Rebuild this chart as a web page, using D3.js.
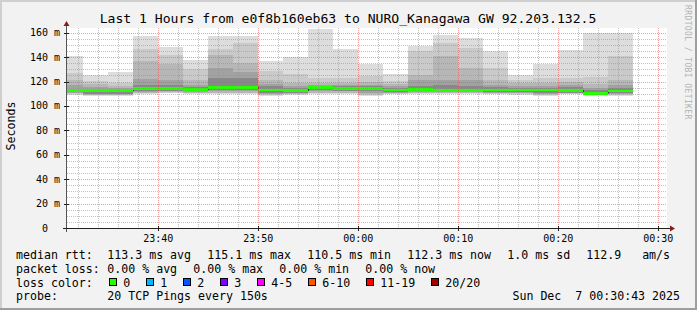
<!DOCTYPE html>
<html>
<head>
<meta charset="utf-8">
<script src="https://cdn.jsdelivr.net/npm/d3@7"></script>
<style>
  html, body { margin: 0; padding: 0; background: #f2f2f2; }
  svg { display: block; font-family: "DejaVu Sans Mono", monospace; }
  svg text { white-space: pre; }
</style>
</head>
<body>
<svg width="697" height="310"></svg>
<script>
// end time of each 150s step (Dec 6 23:xx -> Dec 7 00:xx)
const stepEnds = ["23:32:30", "23:35:00", "23:37:30", "23:40:00", "23:42:30", "23:45:00",
  "23:47:30", "23:50:00", "23:52:30", "23:55:00", "23:57:30", "00:00:00", "00:02:30",
  "00:05:00", "00:07:30", "00:10:00", "00:12:30", "00:15:00", "00:17:30", "00:20:00",
  "00:22:30", "00:25:00", "00:27:30"];

// median rtt (ms)
const median = [112.5, 112.5, 112.5, 114.2, 114.2, 113.4, 115.1, 115.0, 113.1, 112.5, 114.8, 114.2,
  114.2, 113.1, 113.7, 113.1, 113.1, 113.1, 113.1, 113.1, 112.8, 110.5, 112.3];

// smoke band edges, outermost (hi1/lo1 = max/min) to innermost
const hi1 = [141, 125, 128, 157, 148.5, 137.7, 157.5, 157.5, 136.5, 140, 163, 146.7,
  134.5, 126, 149, 158.3, 155.7, 144.8, 125.3, 134, 146, 159.5, 159.5];
const hi2 = [127, 120.7, 119, 147, 142, 130.6, 147, 152, 129, 126, 123, 122.7,
  124.2, 120.5, 144.8, 151.6, 147.5, 131.5, 121.6, 123, 123, 124, 140.8];
const hi3 = [121.3, 118, 116.5, 137, 134, 121, 141.5, 135, 121, 119, 119, 119,
  120, 118, 125.7, 141, 130.9, 121, 118.5, 119, 119.5, 118, 121];
const hi4 = [117, 115.5, 114.5, 122, 121.5, 117.5, 131, 128, 118, 116.5, 117, 117,
  117.5, 116, 121, 121.3, 121.6, 117.5, 116.5, 116.1, 117, 115, 117];
const hi5 = [114, 113.5, 113.5, 117, 117, 115.5, 123, 122.7, 116, 115, 116, 116,
  116, 115, 116.5, 117, 116.5, 115.5, 115, 115, 115.5, 113.5, 115];
const lo1 = [109, 108.5, 108.5, 110, 110.5, 110, 109.5, 109.5, 108.5, 109, 110, 110,
  108.5, 109.5, 110, 110, 110, 109.5, 109.3, 108.5, 109.5, 108.5, 108.5];
const lo2 = [110, 109, 109, 110.5, 111, 110.5, 110.5, 110.5, 109, 109.5, 110.5, 110.5,
  109, 110, 110.5, 110.5, 110.5, 110, 109.8, 109, 110, 109, 109];
const lo3 = [110.5, 109.3, 109.3, 111, 111.5, 111, 111, 111, 109.5, 110, 111, 111,
  110, 110.5, 111, 111, 111, 110.5, 110.3, 109.5, 110.3, 109.3, 109.5];
const lo4 = [111, 109.6, 109.6, 111.5, 112, 111.5, 112, 112, 110, 110.5, 112, 112,
  111, 111, 111.5, 111.5, 111.5, 111, 110.8, 110, 110.6, 109.6, 110];
const lo5 = [111.5, 110, 110, 112, 112.5, 112, 113, 113, 110.5, 111, 113, 112.5,
  112, 111.5, 112, 112, 112, 111.5, 111.3, 111, 111, 110, 111];

const smokeColors = ["#dddddd", "#cacaca", "#b7b7b7", "#a2a2a2", "#888888"];

const lossLabels = ["0", "1", "2", "3", "4-5", "6-10", "11-19", "20/20"];
const lossColors = ["#26ff00", "#00b8ff", "#0059ff", "#7e00ff", "#ff00ff", "#ff5500", "#ff0000", "#a10000"];

const title = "Last 1 Hours from e0f8b160eb63 to NURO_Kanagawa GW 92.203.132.5";
const rttItems = ["113.3 ms avg", "115.1 ms max", "110.5 ms min", "112.3 ms now", "1.0 ms sd", "112.9   am/s"];
const lossItems = ["0.00 % avg", "0.00 % max", "0.00 % min", "0.00 % now"];
const probeText = "20 TCP Pings every 150s";
const stamp = "Sun Dec  7 00:30:43 2025";

const W = 697, H = 310;
const plotL = 67, plotR = 667, plotT = 28, plotB = 228;

const tEnd = new Date(Date.UTC(2025, 11, 7, 0, 30, 52));
const tStart = new Date(+tEnd - 3600e3);
const parseEnd = s => {
  const [h, m, sec] = s.split(":").map(Number);
  return new Date(Date.UTC(2025, 11, h >= 12 ? 6 : 7, h, m, sec));
};
const ends = stepEnds.map(parseEnd);

const x = d3.scaleUtc().domain([tStart, tEnd]).range([plotL, plotR]);
const y = d3.scaleLinear().domain([0, 163.9]).range([plotB, plotT]);

const svg = d3.select("svg");

// frame
svg.append("rect").attr("width", W).attr("height", H).attr("fill", "#f2f2f2");
svg.append("rect").attr("x", 0).attr("y", 0).attr("width", W).attr("height", 2).attr("fill", "#cfcfcf");
svg.append("rect").attr("x", 0).attr("y", 0).attr("width", 2).attr("height", H).attr("fill", "#cfcfcf");
svg.append("rect").attr("x", 0).attr("y", H - 2).attr("width", W).attr("height", 2).attr("fill", "#9e9e9e");
svg.append("rect").attr("x", W - 2).attr("y", 0).attr("width", 2).attr("height", H).attr("fill", "#9e9e9e");

svg.append("rect")
  .attr("x", plotL).attr("y", plotT)
  .attr("width", plotR - plotL).attr("height", plotB - plotT)
  .attr("fill", "#ffffff");

svg.append("clipPath").attr("id", "plot")
  .append("rect").attr("x", plotL).attr("y", plotT)
  .attr("width", plotR - plotL).attr("height", plotB - plotT);

const cols = ends.map((e, i) => ({
  t0: new Date(Math.max(+e - 150e3, +tStart)),
  t1: e,
  med: median[i],
  bands: [[lo1[i], hi1[i]], [lo2[i], hi2[i]], [lo3[i], hi3[i]], [lo4[i], hi4[i]], [lo5[i], hi5[i]]]
}));

const plot = svg.append("g").attr("clip-path", "url(#plot)");

// smoke
smokeColors.forEach((c, k) => {
  plot.append("g")
    .selectAll("rect")
    .data(cols)
    .enter()
    .append("rect")
    .attr("x", d => x(d.t0))
    .attr("width", d => x(d.t1) - x(d.t0))
    .attr("y", d => y(d.bands[k][1]))
    .attr("height", d => y(d.bands[k][0]) - y(d.bands[k][1]))
    .attr("fill", c)
    .attr("shape-rendering", "crispEdges");
});

// median line + loss colour band
const stepPts = cols.map(d => [x(d.t0), y(d.med)]);
stepPts.push([x(cols[cols.length - 1].t1), y(cols[cols.length - 1].med)]);
plot.append("path")
  .attr("d", d3.line().curve(d3.curveStepAfter)(stepPts))
  .attr("fill", "none")
  .attr("stroke", "#202020")
  .attr("stroke-width", 1);

plot.append("g")
  .selectAll("rect")
  .data(cols)
  .enter()
  .append("rect")
  .attr("x", d => x(d.t0))
  .attr("width", d => x(d.t1) - x(d.t0))
  .attr("y", d => y(d.med + 1.2))
  .attr("height", d => y(d.med - 1.2) - y(d.med + 1.2))
  .attr("fill", lossColors[0])
  .attr("shape-rendering", "crispEdges");

// grid
const px = v => Math.round(v) + 0.5;
const minorX = d3.utcMinute.every(2).range(tStart, tEnd).filter(t => t.getUTCMinutes() % 10 !== 0);
const majorX = d3.utcMinute.every(10).range(tStart, tEnd);
const minorY = y.ticks(32).filter(v => v % 20 !== 0 && v > 0);
const majorY = y.ticks(8).filter(v => v > 0);

const grid = svg.append("g").attr("stroke-dasharray", "1,1").attr("shape-rendering", "crispEdges");
grid.selectAll("line.mx").data(minorX).enter().append("line")
  .attr("x1", d => px(x(d))).attr("x2", d => px(x(d)))
  .attr("y1", plotT).attr("y2", plotB)
  .attr("stroke", "rgba(143,143,143,0.55)");
grid.selectAll("line.my").data(minorY).enter().append("line")
  .attr("x1", plotL).attr("x2", plotR)
  .attr("y1", d => px(y(d))).attr("y2", d => px(y(d)))
  .attr("stroke", "rgba(143,143,143,0.55)");
grid.selectAll("line.Mx").data(majorX).enter().append("line")
  .attr("x1", d => px(x(d))).attr("x2", d => px(x(d)))
  .attr("y1", plotT).attr("y2", plotB)
  .attr("stroke", "rgba(222,79,79,0.55)");
grid.selectAll("line.My").data(majorY).enter().append("line")
  .attr("x1", plotL).attr("x2", plotR)
  .attr("y1", d => px(y(d))).attr("y2", d => px(y(d)))
  .attr("stroke", "rgba(222,79,79,0.55)");

// axes
const axis = svg.append("g").attr("stroke", "#1f1f1f").attr("shape-rendering", "crispEdges");
axis.append("line").attr("x1", plotL - 4).attr("x2", plotR + 4).attr("y1", plotB + 0.5).attr("y2", plotB + 0.5);
axis.append("line").attr("x1", plotL - 0.5).attr("x2", plotL - 0.5).attr("y1", plotB + 4).attr("y2", plotT - 3)
  .attr("stroke", "#555");
axis.selectAll("line.yt").data(majorY.concat([0])).enter().append("line")
  .attr("x1", plotL - 3).attr("x2", plotL + 2)
  .attr("y1", d => px(y(d))).attr("y2", d => px(y(d)));
axis.selectAll("line.xt").data(majorX).enter().append("line")
  .attr("x1", d => px(x(d))).attr("x2", d => px(x(d)))
  .attr("y1", plotB - 2).attr("y2", plotB + 3);

svg.append("path")
  .attr("d", `M${plotR + 3},${plotB - 2.5}L${plotR + 8},${plotB + 0.5}L${plotR + 3},${plotB + 3.5}Z`)
  .attr("fill", "#801f1f");
svg.append("path")
  .attr("d", `M${plotL - 3.5},${plotT - 2}L${plotL - 0.5},${plotT - 7}L${plotL + 2.5},${plotT - 2}Z`)
  .attr("fill", "#801f1f");

// tick labels
svg.append("g")
  .selectAll("text")
  .data(y.ticks(8))
  .enter()
  .append("text")
  .attr("x", 60)
  .attr("y", d => y(d) + 3.5)
  .attr("text-anchor", "end")
  .style("font-size", "10px")
  .text(d => d === 0 ? "0  " : `${d} m`);

svg.append("g")
  .selectAll("text")
  .data(majorX)
  .enter()
  .append("text")
  .attr("x", d => x(d))
  .attr("y", 241.5)
  .attr("text-anchor", "middle")
  .style("font-size", "10px")
  .text(d3.utcFormat("%H:%M"));

svg.append("text")
  .attr("transform", "translate(14.5,126) rotate(-90)")
  .attr("text-anchor", "middle")
  .style("font-size", "11.6px")
  .text("Seconds");

svg.append("text")
  .attr("x", 348).attr("y", 23.3)
  .attr("text-anchor", "middle")
  .style("font-size", "13.1px")
  .text(title);

svg.append("text")
  .attr("transform", "translate(685,5) rotate(90)")
  .style("font-size", "8px")
  .style("letter-spacing", "0.4px")
  .attr("fill", "#b3b3b3")
  .text("RRDTOOL / TOBI OETIKER");

// legend
const legend = svg.append("g").style("font-size", "11.6px");
const cw = 7, gap = 16, valX = 107.3;
const row = (label, items, yy) => {
  legend.append("text").attr("x", 16).attr("y", yy).text(label);
  let xx = valX;
  items.forEach(s => {
    legend.append("text").attr("x", xx).attr("y", yy).text(s);
    xx += s.length * cw + gap;
  });
};
row("median rtt:", rttItems, 258.5);
row("packet loss:", lossItems, 272.5);
row("probe:", [probeText], 300.3);
legend.append("text").attr("x", 680).attr("y", 300.3).attr("text-anchor", "end").text(stamp);

legend.append("text").attr("x", 16).attr("y", 286.5).text("loss color:");
let bx = 108.7;
lossLabels.forEach((lab, i) => {
  legend.append("rect")
    .attr("x", Math.round(bx) + 0.5).attr("y", 278.5)
    .attr("width", 7).attr("height", 7)
    .attr("fill", lossColors[i])
    .attr("stroke", "#000")
    .attr("shape-rendering", "crispEdges");
  legend.append("text").attr("x", bx + 14.6).attr("y", 286.5).text(lab);
  bx += 37 + cw * (lab.length - 1);
});
</script>
</body>
</html>
